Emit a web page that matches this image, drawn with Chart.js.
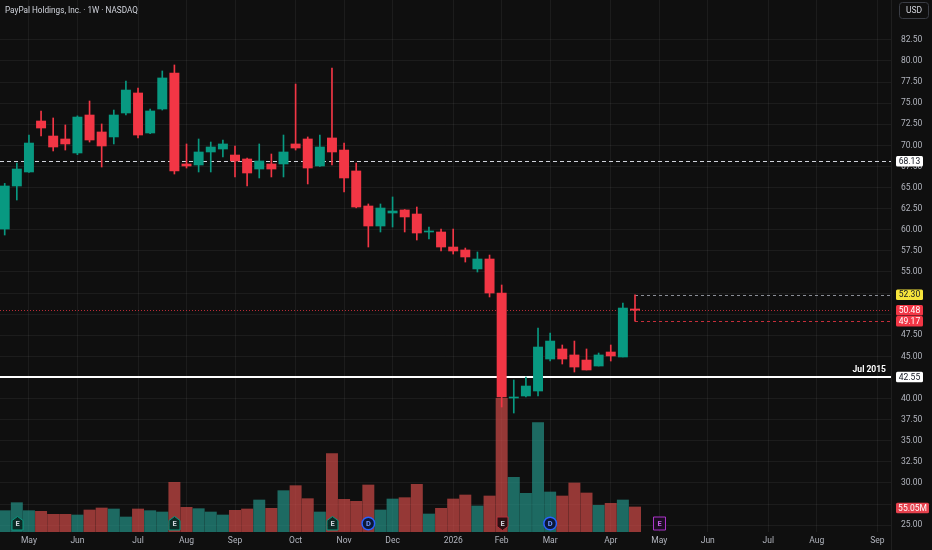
<!DOCTYPE html>
<html lang="en">
<head>
  <meta charset="UTF-8">
  <title>PayPal Holdings, Inc. · 1W · NASDAQ</title>
  <script src="https://cdn.jsdelivr.net/npm/chart.js"></script>
  <style>
    html, body {
      margin: 0;
      padding: 0;
      background: #0f0f0f;
    }
    #wrap {
      width: 932px;
      height: 550px;
      position: relative;
    }
  </style>
</head>
<body>

<div id="wrap"><canvas id="pyplChart"></canvas></div>

<script>
  // weekly bars, week of 21 Apr 2025 up to week of 20 Apr 2026
  const opens  = [60.09, 65.19, 66.85, 72.89, 71.11, 70.76, 69.10, 73.60, 71.59, 71.00,
                  73.84, 76.21, 71.47, 74.31, 78.58, 67.80, 67.68, 69.22, 69.57, 68.86,
                  68.39, 67.20, 67.80, 67.80, 70.17, 70.76, 67.56, 70.88, 69.45, 66.97,
                  62.82, 60.45, 61.99, 62.35, 61.87, 59.74, 59.74, 57.96, 57.61, 55.36,
                  56.54, 52.51, 40.07, 40.31, 40.90, 44.69, 45.88, 45.17, 44.57, 43.86,
                  45.52, 44.93, 50.62];
  const highs  = [65.50, 67.91, 71.23, 74.08, 73.25, 72.42, 73.50, 75.26, 72.54, 74.19,
                  77.63, 76.80, 74.31, 78.82, 79.53, 70.17, 70.76, 70.40, 70.64, 69.93,
                  68.51, 70.17, 68.98, 71.23, 77.27, 71.00, 71.23, 79.17, 70.28, 67.91,
                  63.06, 63.06, 63.89, 62.40, 62.70, 60.33, 60.09, 60.09, 57.84, 57.37,
                  57.01, 53.46, 42.20, 42.56, 48.36, 47.77, 46.35, 46.82, 45.88, 45.40,
                  46.35, 51.33, 52.30];
  const lows   = [59.38, 63.53, 66.80, 71.11, 69.34, 69.45, 68.90, 70.40, 67.44, 70.17,
                  73.60, 70.88, 71.40, 74.19, 66.61, 67.32, 66.85, 66.85, 68.63, 66.26,
                  65.19, 66.14, 66.26, 66.26, 69.45, 65.43, 67.50, 67.68, 64.48, 62.60,
                  57.96, 59.74, 60.33, 59.74, 58.79, 58.91, 57.49, 57.13, 56.18, 55.00,
                  52.04, 39.00, 38.29, 40.19, 40.31, 44.45, 44.10, 43.15, 43.39, 43.86,
                  44.45, 44.93, 49.17];
  const closes = [65.19, 67.20, 70.28, 72.06, 69.81, 70.17, 73.36, 70.64, 69.93, 73.60,
                  76.56, 71.23, 74.08, 77.99, 66.97, 67.56, 69.22, 69.81, 70.17, 68.15,
                  66.73, 68.15, 67.20, 69.22, 69.69, 67.32, 69.81, 69.22, 66.14, 62.70,
                  60.45, 62.58, 62.23, 61.52, 59.62, 59.86, 57.96, 57.49, 56.78, 56.54,
                  52.51, 40.19, 40.19, 41.49, 46.11, 46.82, 44.69, 43.74, 43.39, 45.17,
                  45.05, 50.73, 50.48];
  // volume in millions of shares
  const volumes = [46.9, 64.5, 46.9, 45.5, 38.9, 38.9, 37.4, 48.4, 52.8, 50.6,
                   33.0, 50.6, 46.9, 44.0, 109.3, 54.3, 51.3, 44.0, 37.4, 47.7,
                   50.6, 70.4, 52.1, 90.9, 101.9, 73.3, 44.0, 172.3, 71.9, 67.5,
                   103.4, 48.4, 72.6, 75.5, 104.9, 39.6, 52.1, 72.6, 81.4, 57.2,
                   79.2, 294.0, 120.3, 85.1, 240.5, 88.0, 79.2, 107.8, 85.8, 58.7,
                   63.1, 70.4, 55.05];

  // time axis: week index where each month starts
  const monthTicks  = [2, 6, 11, 15, 19, 24, 28, 32, 37, 41, 45, 50, 54, 58, 63, 67, 72];
  const monthLabels = ["May", "Jun", "Jul", "Aug", "Sep", "Oct", "Nov", "Dec", "2026",
                       "Feb", "Mar", "Apr", "May", "Jun", "Jul", "Aug", "Sep"];

  const priceTicks = [25, 27.5, 30, 32.5, 35, 37.5, 40, 42.5, 45, 47.5, 50, 52.5, 55,
                      57.5, 60, 62.5, 65, 67.5, 70, 72.5, 75, 77.5, 80, 82.5];
  const coveredTicks = [27.5, 42.5, 50, 52.5];   // hidden under the price tags

  const earningsWeeks = [1, 14, 27, 41, 54];
  const earningsKind  = ["beat", "beat", "beat", "miss", "next"];
  const dividendWeeks = [30, 45];

  const resistanceLevel = 68.13;
  const supportLevel = 42.55;
  const supportNote = "Jul 2015";

  const GREEN = "#089981";
  const RED = "#f23645";
  const FONT = "Roboto, 'Liberation Sans', sans-serif";

  const weeks = closes.map((c, i) => i);
  const up = weeks.map(i => closes[i] >= opens[i]);

  function hline(ctx, x1, x2, yPix, color, dash, width) {
    ctx.beginPath();
    ctx.strokeStyle = color;
    ctx.lineWidth = width;
    ctx.setLineDash(dash);
    const yy = width % 2 ? Math.round(yPix) + 0.5 : Math.round(yPix);
    ctx.moveTo(x1, yy);
    ctx.lineTo(x2, yy);
    ctx.stroke();
  }

  function tag(ctx, x, yPix, w, text, bg, fg) {
    const h = 10.5;
    ctx.fillStyle = bg;
    ctx.beginPath();
    ctx.roundRect(x, yPix - h / 2, w, h, 1.5);
    ctx.fill();
    ctx.fillStyle = fg;
    ctx.font = "8.5px " + FONT;
    ctx.textAlign = "center";
    ctx.textBaseline = "middle";
    ctx.fillText(text, x + w / 2, yPix + 0.5);
  }

  // price lines and levels, under the candles
  const levelsPlugin = {
    id: "levels",
    beforeDatasetsDraw(chart) {
      const { ctx, chartArea: a, scales: { x, y } } = chart;
      const last = closes.length - 1;
      const lx = x.getPixelForValue(last);
      ctx.save();
      hline(ctx, a.left, a.right, y.getPixelForValue(resistanceLevel), "#d1d4dc", [4, 3], 1);
      hline(ctx, a.left, a.right, y.getPixelForValue(closes[last]), "rgba(242,54,69,0.75)", [1, 2], 1);
      hline(ctx, lx, a.right, y.getPixelForValue(highs[last]), "#8a8d96", [3, 3], 1);
      hline(ctx, lx, a.right, y.getPixelForValue(lows[last]), "rgba(242,54,69,0.8)", [3, 3], 1);
      hline(ctx, a.left, a.right, y.getPixelForValue(supportLevel), "#ffffff", [], 2);
      ctx.setLineDash([]);
      ctx.fillStyle = "#ffffff";
      ctx.font = "bold 8.5px " + FONT;
      ctx.textAlign = "right";
      ctx.textBaseline = "middle";
      ctx.fillText(supportNote, a.right - 5, y.getPixelForValue(supportLevel) - 7);
      ctx.restore();
    },
    afterDatasetsDraw(chart) {
      const { ctx, chartArea: a, scales: { x } } = chart;
      const cy = a.bottom - 8.5;
      ctx.save();
      ctx.setLineDash([]);
      ctx.lineWidth = 1;
      ctx.font = "bold 7.5px " + FONT;
      ctx.textAlign = "center";
      ctx.textBaseline = "middle";
      earningsWeeks.forEach((wk, k) => {
        const cx = Math.round(x.getPixelForValue(wk)) + 0.5;
        const kind = earningsKind[k];
        ctx.beginPath();
        if (kind === "beat") {
          ctx.moveTo(cx - 5.5, cy + 6.5); ctx.lineTo(cx - 5.5, cy - 3); ctx.lineTo(cx, cy - 7);
          ctx.lineTo(cx + 5.5, cy - 3); ctx.lineTo(cx + 5.5, cy + 6.5); ctx.closePath();
          ctx.fillStyle = "#0c2a25"; ctx.strokeStyle = GREEN;
        } else if (kind === "miss") {
          ctx.moveTo(cx - 5.5, cy - 6.5); ctx.lineTo(cx + 5.5, cy - 6.5); ctx.lineTo(cx + 5.5, cy + 3);
          ctx.lineTo(cx, cy + 7); ctx.lineTo(cx - 5.5, cy + 3); ctx.closePath();
          ctx.fillStyle = "#2a1013"; ctx.strokeStyle = "#b3303b";
        } else {
          ctx.rect(cx - 6, cy - 6.5, 12, 13);
          ctx.fillStyle = "#1c0c22"; ctx.strokeStyle = "#ab35c9";
        }
        ctx.fill();
        ctx.stroke();
        ctx.fillStyle = kind === "next" ? "#c05be0" : "#d1d4dc";
        ctx.fillText("E", cx, cy + 0.5);
      });
      dividendWeeks.forEach(wk => {
        const cx = x.getPixelForValue(wk);
        ctx.beginPath();
        ctx.arc(cx, cy, 6.3, 0, Math.PI * 2);
        ctx.fillStyle = "#0c1838";
        ctx.strokeStyle = "#2962ff";
        ctx.lineWidth = 1.5;
        ctx.fill();
        ctx.stroke();
        ctx.fillStyle = "#6f95ff";
        ctx.fillText("D", cx, cy + 0.5);
      });
      ctx.restore();
    },
    afterDraw(chart) {
      const { ctx, chartArea: a, scales: { y, yv } } = chart;
      const last = closes.length - 1;
      const tx = a.right + 5;
      ctx.save();
      // axis separator
      ctx.fillStyle = "#1f1f1f";
      ctx.fillRect(a.right, 0, 1, chart.height);
      tag(ctx, tx, y.getPixelForValue(resistanceLevel), 27, resistanceLevel.toFixed(2), "#ffffff", "#131722");
      tag(ctx, tx, y.getPixelForValue(highs[last]), 27, highs[last].toFixed(2), "#f5e33b", "#131722");
      tag(ctx, tx, y.getPixelForValue(closes[last]), 27, closes[last].toFixed(2), RED, "#ffffff");
      tag(ctx, tx, y.getPixelForValue(lows[last]), 27, lows[last].toFixed(2), RED, "#ffffff");
      tag(ctx, tx, y.getPixelForValue(supportLevel), 27, supportLevel.toFixed(2), "#ffffff", "#131722");
      tag(ctx, tx, yv.getPixelForValue(volumes[last]) + 1, 33, volumes[last].toFixed(2) + "M",
          up[last] ? GREEN : "#e5414d", "#ffffff");
      // currency box
      ctx.strokeStyle = "#3a3d45";
      ctx.lineWidth = 1;
      ctx.beginPath();
      ctx.roundRect(899.5, 2.5, 29, 16, 3);
      ctx.stroke();
      ctx.fillStyle = "#d1d4dc";
      ctx.font = "8.5px " + FONT;
      ctx.textAlign = "center";
      ctx.textBaseline = "middle";
      ctx.fillText("USD", 914, 11);
      // title
      ctx.textAlign = "left";
      ctx.font = "8.2px " + FONT;
      ctx.fillText("PayPal Holdings, Inc. · 1W · NASDAQ", 5, 11);
      ctx.restore();
    }
  };

  const chartCtx = document.getElementById("pyplChart").getContext("2d");
  const pyplChart = new Chart(chartCtx, {
    type: "bar",
    data: {
      datasets: [
        {
          label: "Volume",
          yAxisID: "yv",
          data: weeks.map(i => ({ x: i, y: volumes[i] })),
          backgroundColor: up.map(u => u ? "rgba(38,166,154,0.6)" : "rgba(239,83,80,0.6)"),
          barThickness: 11.3,
          grouped: false,
          order: 3
        },
        {
          label: "Wick",
          yAxisID: "y",
          data: weeks.map(i => ({ x: i, y: [lows[i], highs[i]] })),
          backgroundColor: up.map(u => u ? GREEN : RED),
          barThickness: 1,
          grouped: false,
          order: 2
        },
        {
          label: "Body",
          yAxisID: "y",
          data: weeks.map(i => ({ x: i, y: [Math.min(opens[i], closes[i]), Math.max(opens[i], closes[i])] })),
          backgroundColor: up.map(u => u ? GREEN : RED),
          barThickness: 9.3,
          minBarLength: 1,
          grouped: false,
          order: 1
        }
      ]
    },
    options: {
      responsive: true,
      maintainAspectRatio: false,
      animation: false,
      layout: { padding: 0 },
      plugins: {
        legend: { display: false },
        tooltip: { enabled: false }
      },
      scales: {
        x: {
          type: "linear",
          min: -0.388,
          max: 73.12,
          offset: false,
          border: { display: false },
          grid: { color: "rgba(242,242,242,0.06)", offset: false, drawTicks: false },
          ticks: {
            autoSkip: false,
            maxRotation: 0,
            padding: 4,
            color: "#b2b5be",
            font: { family: FONT, size: 8.5 },
            callback: (v, i) => monthLabels[i]
          },
          afterBuildTicks: scale => { scale.ticks = monthTicks.map(v => ({ value: v })); },
          afterFit: scale => { scale.height = 18; scale.paddingLeft = 0; scale.paddingRight = 0; }
        },
        y: {
          type: "linear",
          position: "right",
          min: 24.194,
          max: 87.227,
          border: { display: false },
          grid: { color: "rgba(242,242,242,0.06)", drawTicks: false },
          ticks: {
            padding: 10,
            color: "#b2b5be",
            font: { family: FONT, size: 8.5 },
            callback: v => coveredTicks.includes(v) ? "" : v.toFixed(2)
          },
          afterBuildTicks: scale => { scale.ticks = priceTicks.map(v => ({ value: v })); },
          afterFit: scale => { scale.width = 41; scale.paddingTop = 0; scale.paddingBottom = 0; }
        },
        yv: {
          type: "linear",
          display: false,
          min: 0,
          max: 1170
        }
      }
    },
    plugins: [levelsPlugin]
  });
</script>

</body>
</html>
